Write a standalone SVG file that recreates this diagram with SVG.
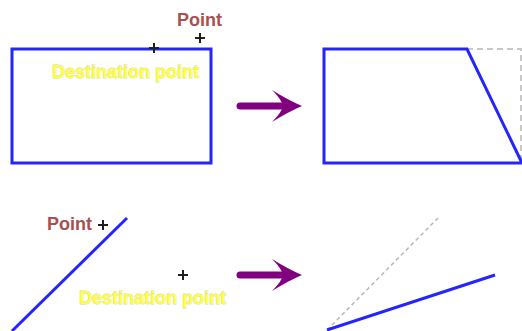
<svg xmlns="http://www.w3.org/2000/svg" width="522" height="331" viewBox="0 0 522 331">
<defs>
<style>
.shape{fill:none;stroke:#2424ff;stroke-width:3;stroke-linejoin:miter}
.guide{fill:none;stroke:#c8c8c8;stroke-width:2;stroke-dasharray:6 4}
.guide2{fill:none;stroke:#b8b8b8;stroke-width:1.5;stroke-dasharray:4 3}
.cross{fill:none;stroke:#202020;stroke-width:2}
.pt{font-family:"Liberation Sans",Arial,sans-serif;font-size:18px;font-weight:bold;fill:#a85050}
.dest{font-family:"Liberation Sans",Arial,sans-serif;font-size:18px;font-weight:bold;fill:#ffff40;stroke:#d8d8a8;stroke-width:0.8;paint-order:stroke}
.arrow{fill:#800080}
</style>
<path id="plus" d="M-5,0 H5 M0,-5 V5"/>
<g id="bigarrow">
<path class="arrow" d="M0,-3.5 H45 V3.5 H0 A3.5,3.5 0 0 1 0,-3.5 Z"/>
<path class="arrow" d="M32,-16 Q48,-6 62,0 Q48,6 32,16 Q42,6 43,0 Q42,-6 32,-16 Z"/>
</g>
</defs>

<g id="before-rect">
<rect class="shape" x="12" y="49" width="199" height="114"/>
<use href="#plus" class="cross" x="154" y="48"/>
<use href="#plus" class="cross" x="200" y="38"/>
<text class="pt" x="177" y="26">Point</text>
<text class="dest" x="52" y="78">Destination point</text>
</g>

<g id="connectors">
<use href="#bigarrow" x="240" y="106"/>
<use href="#bigarrow" x="240" y="275"/>
</g>

<g id="after-rect">
<polyline class="guide" points="467,49 521,49 521,163"/>
<polygon class="shape" points="324,49 467,49 522,163 324,163"/>
</g>

<g id="before-line">
<line class="shape" x1="12" y1="331" x2="127" y2="218"/>
<use href="#plus" class="cross" x="103" y="225"/>
<use href="#plus" class="cross" x="183" y="275"/>
<text class="pt" x="47" y="230">Point</text>
<text class="dest" x="79" y="304">Destination point</text>
</g>

<g id="after-line">
<line class="guide2" x1="327" y1="330" x2="438" y2="218"/>
<line class="shape" x1="327" y1="330" x2="495" y2="275"/>
</g>
</svg>
